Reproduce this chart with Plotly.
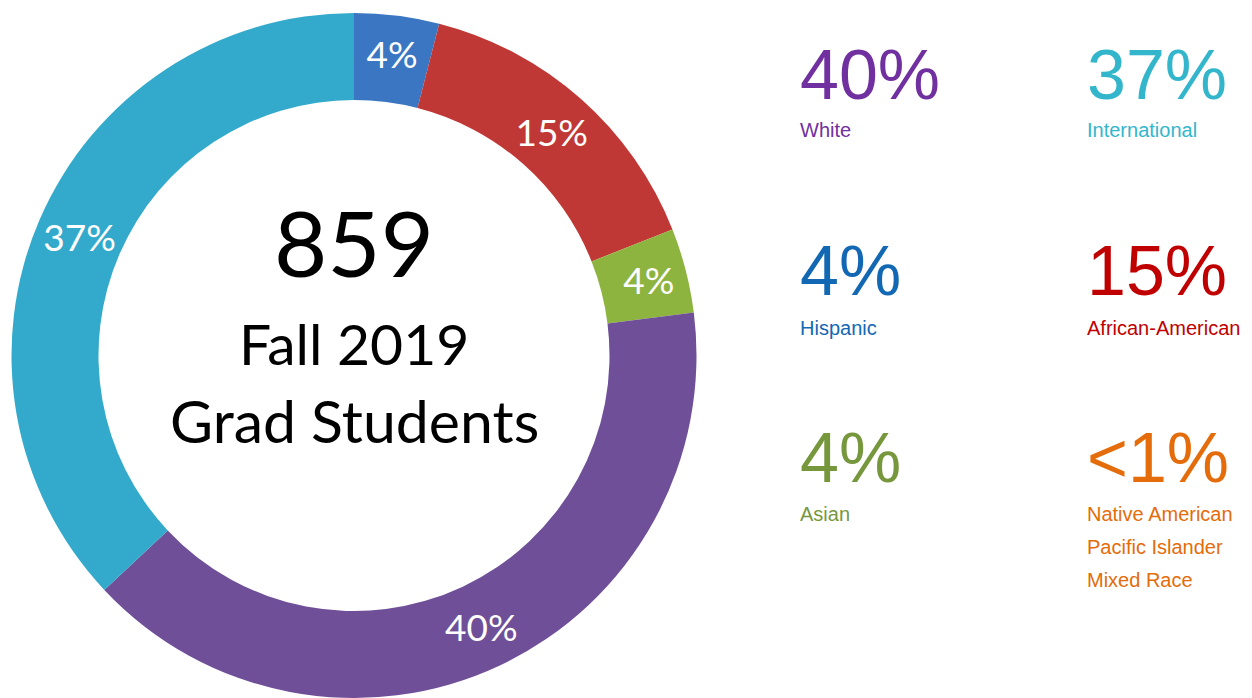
import plotly.graph_objects as go

# Data
groups = ["Hispanic", "African-American", "Asian", "White", "International"]
shares = [4, 15, 4, 40, 37]
slice_colors = ["#3A76C2", "#C03836", "#8DB43F", "#6F4F98", "#33AACB"]

total_students = "859"
center_lines = ["Fall 2019", "Grad Students"]

summary_values = ["40%", "37%", "4%", "15%", "4%", "<1%"]
summary_labels = [["White"], ["International"], ["Hispanic"], ["African-American"], ["Asian"],
                  ["Native American", "Pacific Islander", "Mixed Race"]]
summary_colors = ["#7030A0", "#33B6CB", "#1268B3", "#C00000", "#77973D", "#E46C0A"]

# page has an 8px body margin; figure sized to fit the 1252x698 window
OFF = 8
W, H = 1244, 690


def px(x):
    return (x - OFF) / W


def py(y):
    return 1 - (y - OFF) / H


fig = go.Figure()
fig.add_trace(go.Pie(
    labels=groups,
    values=shares,
    text=[f"{v}%" for v in shares],
    textinfo="text",
    textposition="inside",
    insidetextorientation="horizontal",
    textfont=dict(family="Lato", size=37, color="white"),
    marker=dict(colors=slice_colors, line=dict(width=0)),
    hole=0.746,
    sort=False,
    direction="clockwise",
    rotation=0,
    showlegend=False,
    hoverinfo="label+percent",
    domain=dict(x=[px(11), px(697)], y=[max(0.0, py(699)), py(13)]),
))

annotations = []
cx = px(354)
annotations.append(dict(text=total_students, x=cx, y=py(241), xref="paper", yref="paper",
                        showarrow=False, xanchor="center", yanchor="middle",
                        font=dict(family="Lato", size=92, color="black")))
for line, yy, fs in zip(center_lines, [343, 420], [57, 59]):
    annotations.append(dict(text=line, x=cx, y=py(yy), xref="paper", yref="paper",
                            showarrow=False, xanchor="center", yanchor="middle",
                            font=dict(family="Lato", size=fs, color="black")))

cols = [798, 1085]
rows_val = [75, 271, 458]
rows_lab = [130, 328, 514]
line_gap = 33
for i, (val, labs, colr) in enumerate(zip(summary_values, summary_labels, summary_colors)):
    c = i % 2
    r = i // 2
    annotations.append(dict(text=val, x=px(cols[c]), y=py(rows_val[r]), xref="paper", yref="paper",
                            showarrow=False, xanchor="left", yanchor="middle",
                            font=dict(family="Liberation Sans", size=70, color=colr)))
    for k, lab in enumerate(labs):
        annotations.append(dict(text=lab, x=px(cols[c]), y=py(rows_lab[r] + k * line_gap),
                                xref="paper", yref="paper",
                                showarrow=False, xanchor="left", yanchor="middle", align="left",
                                font=dict(family="Liberation Sans", size=20, color=colr)))

fig.update_layout(
    width=W, height=H,
    margin=dict(l=0, r=0, t=0, b=0),
    paper_bgcolor="white", plot_bgcolor="white",
    annotations=annotations,
)

fig.write_html("out.html")
